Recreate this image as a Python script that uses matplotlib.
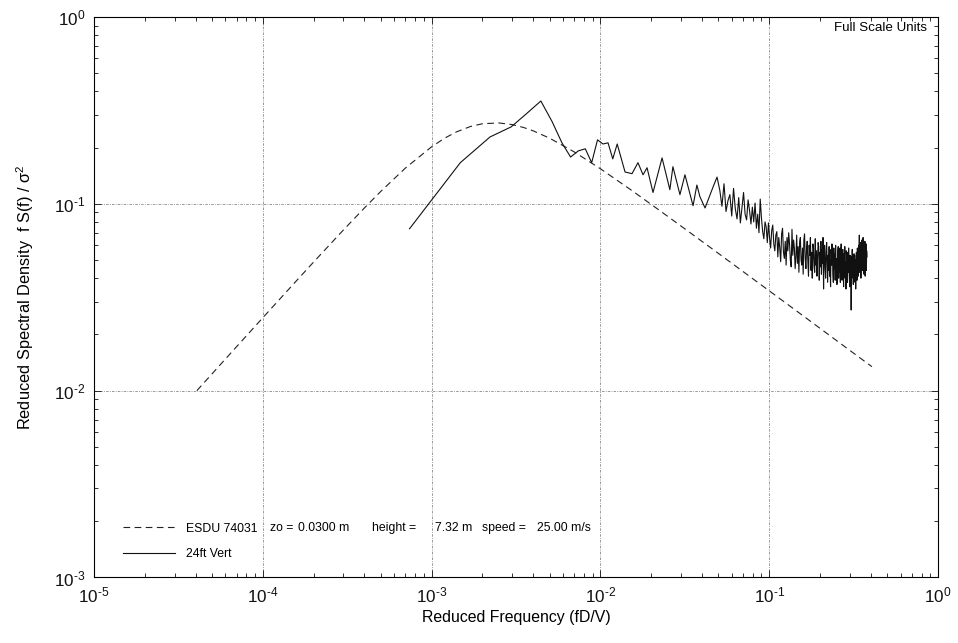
import numpy as np
import matplotlib.pyplot as plt
from matplotlib.ticker import LogLocator, FuncFormatter, NullFormatter

plt.rcParams['font.family'] = ['Liberation Sans', 'DejaVu Sans']
plt.rcParams['mathtext.default'] = 'regular'

# ESDU 74031 model spectrum (reduced frequency, f S(f) / sigma^2)
esdu_f = [4.07e-5, 6.0e-5, 1.0e-4, 1.5e-4, 2.0e-4, 3.0e-4, 4.0e-4, 5.0e-4,
          7.0e-4, 1.0e-3, 1.2e-3, 1.4e-3, 1.7e-3, 2.0e-3, 2.5e-3, 3.0e-3,
          3.5e-3, 4.0e-3, 5.0e-3, 7.0e-3, 1.0e-2, 1.5e-2, 2.0e-2, 3.0e-2,
          5.0e-2, 7.0e-2, 0.1, 0.15, 0.2, 0.3, 0.406]
esdu_s = [0.0100, 0.01475, 0.02455, 0.03672, 0.04877, 0.07235, 0.0950, 0.1165,
          0.1554, 0.2019, 0.2250, 0.2423, 0.2594, 0.2682, 0.2710, 0.2655,
          0.2563, 0.2458, 0.2246, 0.1896, 0.1541, 0.1196, 0.0993, 0.0761,
          0.0543, 0.0434, 0.03424, 0.02613, 0.02156, 0.01644, 0.01344]

# measured 24ft vertical spectrum, low-frequency harmonics
vert_f = [7.4e-4, 1.48e-3, 2.22e-3, 2.96e-3, 3.70e-3, 4.44e-3, 5.18e-3, 5.92e-3,
          6.66e-3, 7.40e-3, 8.14e-3, 8.88e-3, 9.62e-3, 1.036e-2, 1.11e-2,
          1.184e-2, 1.258e-2, 1.40e-2, 1.54e-2, 1.67e-2, 1.79e-2, 1.89e-2,
          2.05e-2, 2.32e-2, 2.58e-2, 2.69e-2, 2.96e-2, 3.17e-2, 3.54e-2,
          3.73e-2, 3.89e-2, 4.17e-2, 4.65e-2, 4.91e-2]
vert_s = [0.0735, 0.166, 0.228, 0.258, 0.307, 0.355, 0.275, 0.212,
          0.178, 0.192, 0.197, 0.166, 0.220, 0.209, 0.212,
          0.174, 0.209, 0.148, 0.145, 0.166, 0.143, 0.156,
          0.115, 0.176, 0.119, 0.158, 0.112, 0.143, 0.0976,
          0.126, 0.109, 0.095, 0.123, 0.139]

# high-frequency part, sampled every 0.0015 from 0.051
df_hi = 0.0015
f0_hi = 0.051
vert_s_hi = [
    0.118, 0.097, 0.128, 0.091, 0.104, 0.112, 0.086, 0.121, 0.094, 0.083,
    0.108, 0.079, 0.096, 0.115, 0.088, 0.082, 0.105, 0.092, 0.078, 0.096,
    0.080, 0.101, 0.074, 0.088, 0.070, 0.106, 0.084, 0.071, 0.065, 0.080,
    0.075, 0.062, 0.079, 0.066, 0.058, 0.072, 0.077, 0.061, 0.056, 0.068,
    0.071, 0.052, 0.066, 0.058, 0.049, 0.069, 0.074, 0.055, 0.051, 0.063,
    0.047, 0.066, 0.056, 0.070, 0.061, 0.050, 0.046, 0.073, 0.053, 0.064,
    0.058, 0.045, 0.052, 0.068, 0.048, 0.059, 0.043, 0.062, 0.066, 0.050,
    0.047, 0.058, 0.042, 0.064, 0.069, 0.051, 0.045, 0.057, 0.063, 0.049,
    0.041, 0.060, 0.053, 0.066, 0.044, 0.055, 0.040, 0.061, 0.058, 0.046,
    0.043, 0.065, 0.047, 0.056, 0.041, 0.052, 0.062, 0.059, 0.039, 0.055,
    0.046, 0.063, 0.042, 0.057, 0.048, 0.066, 0.035, 0.054, 0.060, 0.045,
    0.040, 0.056, 0.062, 0.049, 0.038, 0.053, 0.044, 0.059, 0.041, 0.050,
    0.036, 0.057, 0.047, 0.061, 0.052, 0.042, 0.038, 0.058, 0.045, 0.054,
    0.039, 0.060, 0.044, 0.051, 0.037, 0.046, 0.056, 0.059, 0.040, 0.053,
    0.043, 0.058, 0.038, 0.050, 0.061, 0.045, 0.039, 0.052, 0.057, 0.042,
    0.036, 0.054, 0.047, 0.059, 0.040, 0.049, 0.035, 0.056, 0.051, 0.044,
    0.038, 0.055, 0.043, 0.058, 0.048, 0.041, 0.036, 0.053, 0.045, 0.050,
    0.027, 0.052, 0.040, 0.057, 0.043, 0.049, 0.037, 0.046, 0.054, 0.041,
    0.053, 0.038, 0.050, 0.035, 0.044, 0.055, 0.048, 0.039, 0.058, 0.046,
    0.052, 0.041, 0.060, 0.045, 0.068, 0.043, 0.057, 0.047, 0.062, 0.040,
    0.055, 0.046, 0.064, 0.058, 0.044, 0.049, 0.066, 0.045, 0.060, 0.042,
    0.057, 0.048, 0.063, 0.041, 0.059, 0.050, 0.061, 0.044, 0.056, 0.052,
]
vert_f_hi = f0_hi + df_hi * np.arange(len(vert_s_hi))

f_all = np.concatenate([vert_f, vert_f_hi])
s_all = np.concatenate([vert_s, vert_s_hi])

# parameters printed after the ESDU legend entry
esdu_params = ['zo =', '0.0300 m', 'height =', '7.32 m', 'speed =', '25.00 m/s']
param_x = [270, 298, 372, 435, 482, 537]

fig = plt.figure(figsize=(9.58, 6.43), dpi=100)
ax = fig.add_axes([0.0981, 0.1019, 0.881, 0.8717])

ax.plot(esdu_f, esdu_s, color='#222222', lw=0.8, dashes=(6, 4), label='ESDU 74031')
ax.plot(f_all, s_all, color='#111111', lw=0.8, label='24ft Vert')

ax.set_xscale('log')
ax.set_yscale('log')
ax.set_xlim(1e-5, 1)
ax.set_ylim(1e-3, 1)

def pow10(v, pos):
    e = int(round(np.log10(v)))
    sign = '\u2010' if e < 0 else ''
    return r'$10^{%s%d}$' % (sign, abs(e))

for axis in (ax.xaxis, ax.yaxis):
    axis.set_major_locator(LogLocator(base=10, numticks=10))
    axis.set_minor_locator(LogLocator(base=10, subs=np.arange(2, 10), numticks=10))
    axis.set_major_formatter(FuncFormatter(pow10))
    axis.set_minor_formatter(NullFormatter())

ax.tick_params(which='both', direction='in', top=True, right=True,
               width=0.6, labelsize=12.3, colors='#111111')
ax.tick_params(which='major', length=5, pad=6)
ax.tick_params(which='minor', length=3)

ax.grid(True, which='major', color='#888888', lw=0.6,
        linestyle=(0, (3, 1.5, 1, 1.5)))
for sp in ax.spines.values():
    sp.set_linewidth(0.8)

ax.set_xlabel('Reduced Frequency (fD/V)', fontsize=11.4, labelpad=3)
ax.set_ylabel(r'Reduced Spectral Density  f S(f) / $\sigma^2$', fontsize=11.8,
              labelpad=13)

ax.text(0.987, 0.980, 'Full Scale Units', transform=ax.transAxes,
        ha='right', va='center', fontsize=9.6)

leg = ax.legend(loc='lower left', bbox_to_anchor=(0.034, 0.031), frameon=False,
                fontsize=8.8, handlelength=4.3, handletextpad=0.9,
                labelspacing=1.1, borderpad=0, borderaxespad=0)

row_y = (577.5 - 528.5) / 560.5
for txt, px in zip(esdu_params, param_x):
    ax.text((px - 94) / 844, row_y, txt, transform=ax.transAxes,
            ha='left', va='center', fontsize=8.8)

fig.savefig('out.png', dpi=100)
